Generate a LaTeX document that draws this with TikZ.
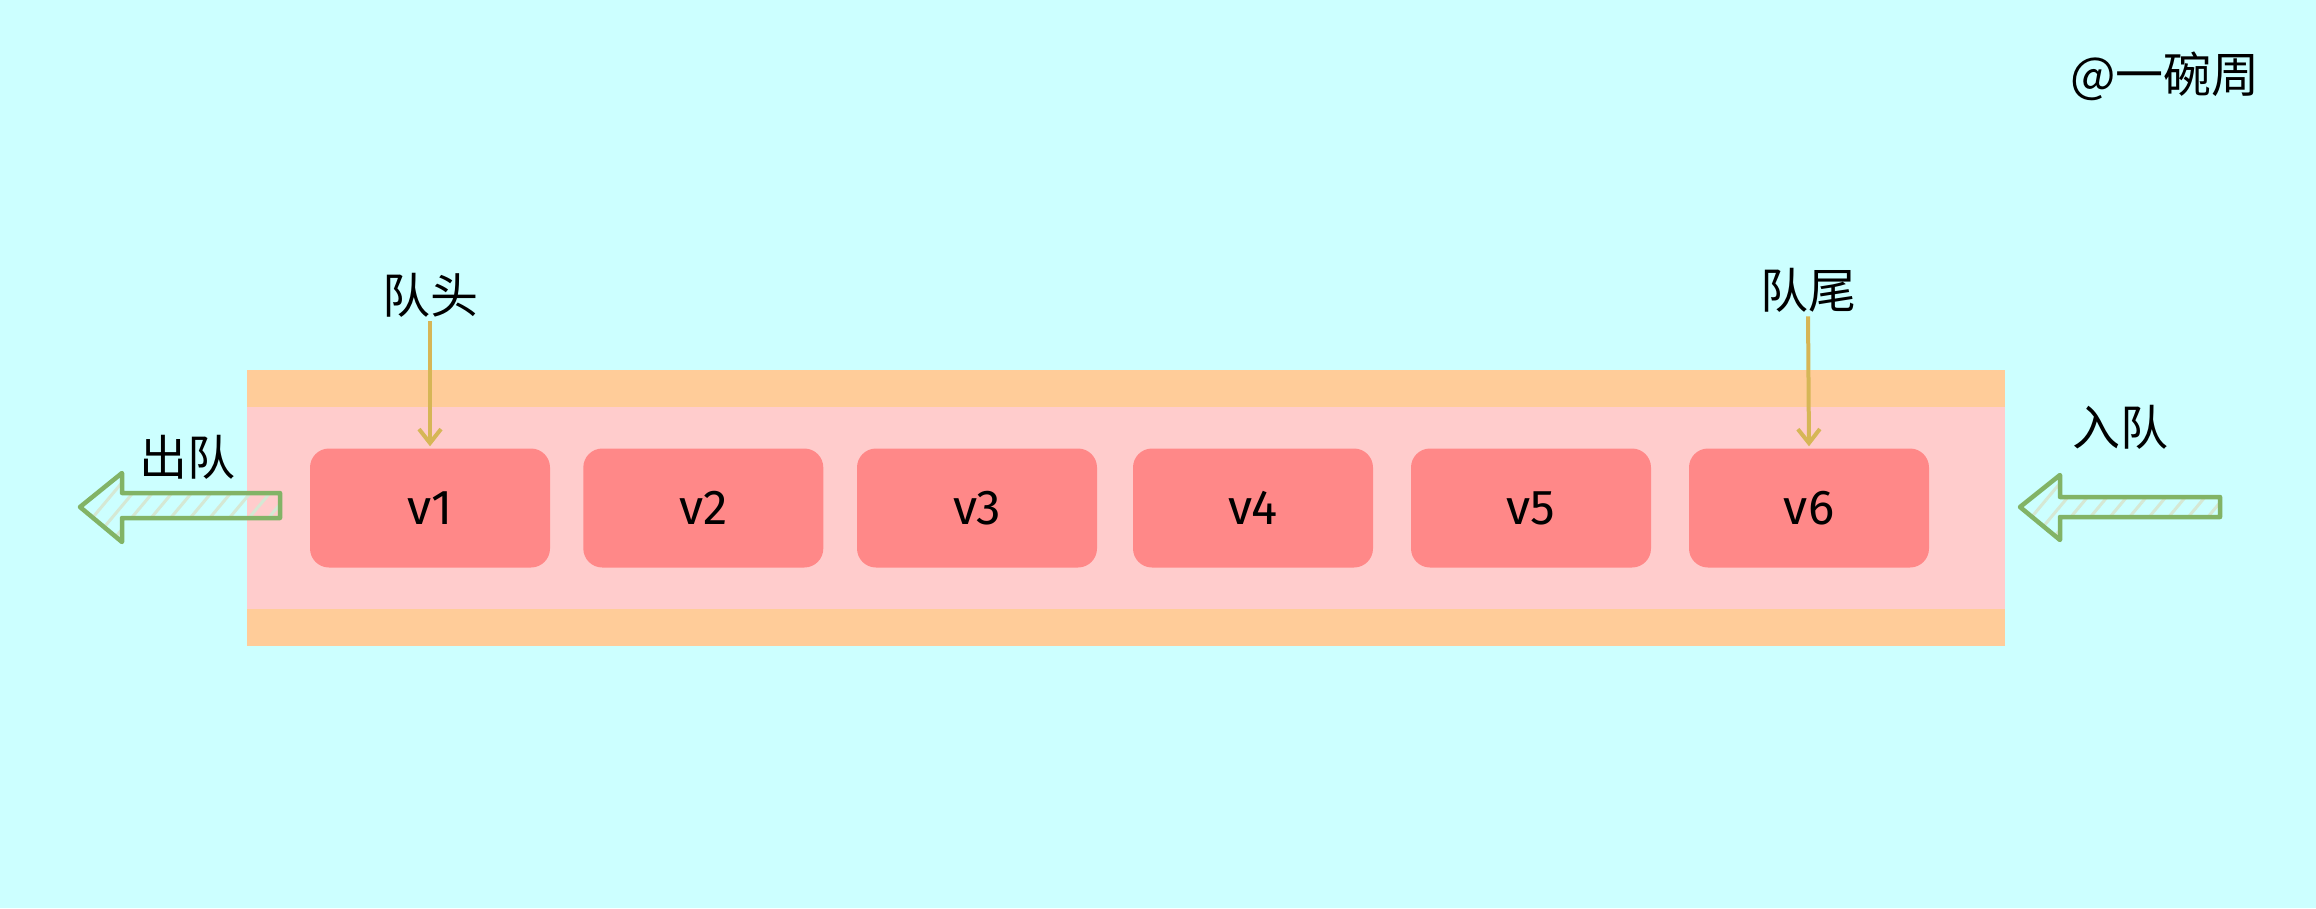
\documentclass[tikz,border=0pt]{standalone}
\usepackage{fontspec}
\setmainfont{Fira Sans}
\newfontfamily\cjk{Noto Sans CJK SC}
\usetikzlibrary{arrows.meta,patterns.meta}
\definecolor{bgc}{HTML}{CCFFFF}
\definecolor{tubeo}{HTML}{FFCC99}
\definecolor{tubep}{HTML}{FFCCCC}
\definecolor{nodec}{HTML}{FF8888}
\definecolor{ptrc}{HTML}{D6B656}
\definecolor{grn}{HTML}{82B366}
\definecolor{hatchc}{HTML}{D5E8D4}
\begin{document}
\begin{tikzpicture}[x=1pt,y=-1pt,
  vbox/.style={fill=nodec,rounded corners=19pt,minimum width=240pt,minimum height=119pt,inner sep=0pt,font=\fontsize{49}{52}\selectfont},
  lbl/.style={inner sep=0pt,font=\cjk\fontsize{48}{50}\selectfont},
  ptr/.style={draw=ptrc,line width=4pt,-{Straight Barb[length=14pt,width=22pt,line width=4pt]},shorten >=2pt,shorten <=4pt},
  blockarrow/.style={draw=grn,line width=4.5pt,line join=round,pattern={Lines[angle=50,distance=15pt,line width=3pt]},pattern color=hatchc}]
\fill[bgc] (0,0) rectangle (2316,908);
\useasboundingbox (0,0) rectangle (2316,908);
% tube
\fill[tubeo] (246.5,370) rectangle (2005,646);
\fill[tubep] (246.5,407) rectangle (2005,609);
% nodes
\foreach \i/\cx in {1/430,2/703.3,3/977,4/1253,5/1531,6/1809}{
  \node[vbox] (v\i) at (\cx,508) {v\i};
}
% labels
\node[lbl] (head) at (430,295) {队头};
\node[lbl] (tail) at (1808,290) {队尾};
\node[lbl] (deq) at (187,457) {出队};
\node[lbl] (enq) at (2120,427) {入队};
\node[lbl] (author) at (2165,76) {@一碗周};
% pointers
\draw[ptr] (head.south) -- (v1.north);
\draw[ptr] (tail.south) -- (v6.north);
% block arrows
\draw[blockarrow] (280,493) -- (122,493) -- (122,473) -- (80,507) -- (122,542) -- (122,518) -- (280,518) -- cycle;
\draw[blockarrow] (2220,497) -- (2060,497) -- (2060,475) -- (2020,507) -- (2060,540) -- (2060,517) -- (2220,517) -- cycle;
\end{tikzpicture}
\end{document}
